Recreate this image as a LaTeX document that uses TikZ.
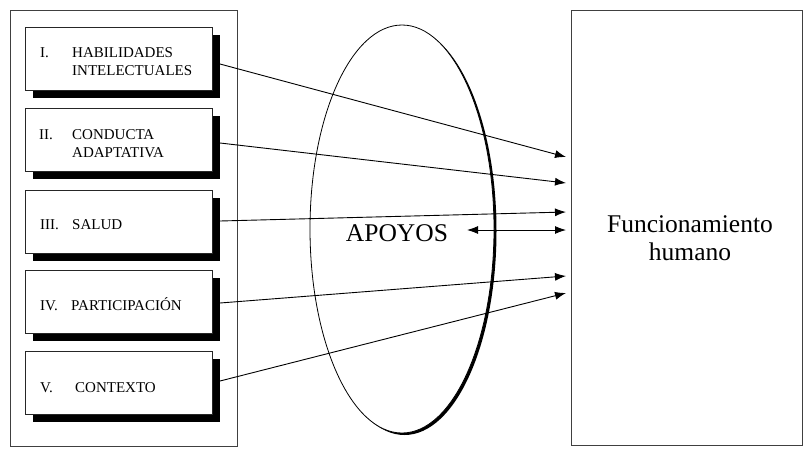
\documentclass[tikz,border=0pt]{standalone}
\usepackage{fontspec}
\setmainfont{Liberation Serif}
\usetikzlibrary{arrows.meta}
\begin{document}
\begin{tikzpicture}[x=1pt,y=-1pt,
  frame/.style={draw=black!75,line width=0.8pt},
  dimbox/.style={draw=black!85,line width=0.8pt,fill=white,minimum width=187pt,minimum height=63pt,inner sep=0pt,anchor=north west},
  shadowbox/.style={fill=black,minimum width=187pt,minimum height=63pt,inner sep=0pt,anchor=north west},
  lbl/.style={anchor=base west,inner sep=0pt,font=\fontsize{15}{18}\selectfont},
  conn/.style={line width=0.9pt,-{Latex[length=11pt,width=8pt]}},
  big/.style={font=\fontsize{25.5}{28}\selectfont,align=center,inner sep=0pt}]
\useasboundingbox (0,0) rectangle (803,448);
\fill[white] (0,0) rectangle (803,448);
% outer frame
\node[frame,minimum width=227pt,minimum height=436pt,inner sep=0pt,anchor=north west] (outer) at (10,10) {};
% boxes with shadows
\foreach \n/\y in {1/27,2/108,3/190,4/270,5/351}{
  \node[shadowbox] (sh\n) at (33,\y+8) {};
  \node[dimbox] (b\n) at (25,\y) {};
}
% labels
\node[lbl] (l1a) at (40,57) {I.};
\node[lbl] (l1b) at (72,57) {HABILIDADES};
\node[lbl] (l1c) at (72,75) {INTELECTUALES};
\node[lbl] (l2a) at (39,139) {II.};
\node[lbl] (l2b) at (72,139) {CONDUCTA};
\node[lbl] (l2c) at (72,157) {ADAPTATIVA};
\node[lbl] (l3a) at (40,229) {III.};
\node[lbl] (l3b) at (72,229) {SALUD};
\node[lbl] (l4a) at (40,310) {IV.};
\node[lbl] (l4b) at (71,310) {PARTICIPACIÓN};
\node[lbl] (l5a) at (40,392) {V.};
\node[lbl] (l5b) at (75,392) {CONTEXTO};
% ellipse with heavier right/bottom stroke
\fill[black] (404.5,231) ellipse [x radius=92, y radius=204];
\fill[white,draw=black,line width=0.8pt] (402,229) ellipse [x radius=92, y radius=204];
\node[big,anchor=base] (apoyos) at (397,241) {APOYOS};
% right box
\node[frame,minimum width=231pt,minimum height=435pt,inner sep=0pt,anchor=north west] (fh) at (571,10) {};
\node[big] (fht) at (690,238) {Funcionamiento\\humano};
% connector points
\coordinate (s1) at (220,64);
\coordinate (s2) at (220,143);
\coordinate (s3) at (220,221);
\coordinate (s4) at (220,303);
\coordinate (s5) at (220,381);
\coordinate (t1) at (566,157);
\coordinate (t2) at (566,183);
\coordinate (t3) at (566,212);
\coordinate (t4) at (566,230);
\coordinate (t5) at (566,276);
\coordinate (t6) at (566,293);
\coordinate (d0) at (467,230);
\draw[conn] (s1) -- (t1);
\draw[conn] (s2) -- (t2);
\draw[conn] (s3) -- (t3);
\draw[conn] (s4) -- (t5);
\draw[conn] (s5) -- (t6);
\draw[line width=0.9pt,{Latex[length=11pt,width=8pt]}-{Latex[length=11pt,width=8pt]}] (d0) -- (t4);
\end{tikzpicture}
\end{document}
